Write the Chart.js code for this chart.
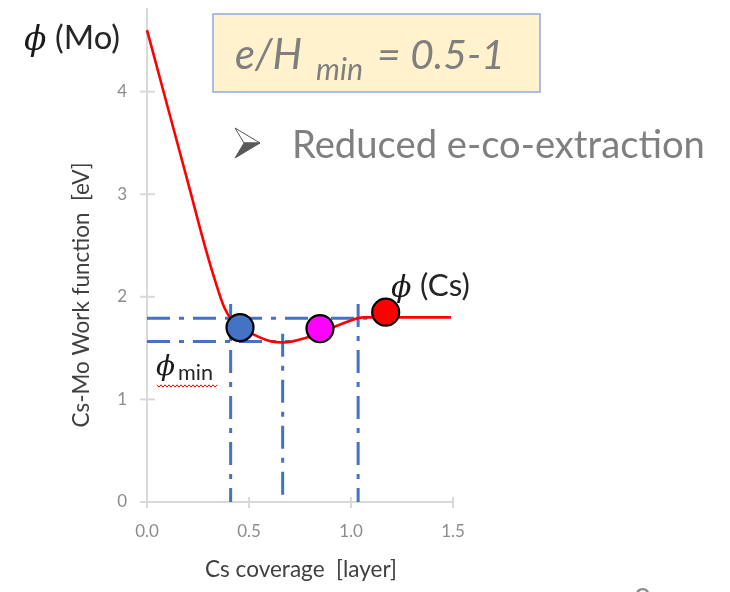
<!DOCTYPE html>
<html>
<head>
<meta charset="utf-8">
<script src="https://cdn.jsdelivr.net/npm/chart.js@4.4.1/dist/chart.umd.min.js"></script>
<style>
    html, body { margin: 0; padding: 0; background: #fff; }
    #wrap { width: 730px; height: 592px; position: relative; }
</style>
</head>
<body>
<div id="wrap"><canvas id="wfChart"></canvas></div>
<script>
// Cs-Mo work function vs Cs coverage
const coverage = [0, 0.1, 0.2, 0.29, 0.335, 0.38, 0.41, 0.46, 0.515, 0.60, 0.67, 0.78, 0.91, 1.00, 1.06, 1.49];
const workFunction = [4.6, 3.86, 3.12, 2.45, 2.15, 1.89, 1.79, 1.70, 1.64, 1.57, 1.555, 1.60, 1.70, 1.77, 1.80, 1.80];

// coloured markers
const markerX = [0.456, 0.848, 1.17];
const markerY = [1.70, 1.69, 1.85];
const markerColors = ['#4472C4', '#FF00FF', '#FF0000'];

// dash-dot guides
const hGuideY = [1.79, 1.565];
const hGuideEnd = [1.08, 0.70];
const vGuideX = [0.41, 0.665, 1.035];
const vGuideTop = [1.93, 1.64, 1.93];

// axis ticks
const xTicks = [0, 0.5, 1.0, 1.5];
const yTicks = [0, 1, 2, 3, 4];

const GRAY = '#7F7F7F';
const AXIS = '#D9D9D9';
const BLUE = '#4472C4';

function fitSize(ctx, text, width, style, family) {
    ctx.font = style + ' 100px ' + family;
    return 100 * width / ctx.measureText(text).width;
}

function drawFit(ctx, text, x, y, width, style, family, color) {
    const size = fitSize(ctx, text, width, style, family);
    ctx.font = style + ' ' + size.toFixed(2) + 'px ' + family;
    ctx.fillStyle = color;
    ctx.fillText(text, x, y);
}

// tick marks that cross the axis lines, like the original
const crossTicks = {
    id: 'crossTicks',
    afterDraw(chart) {
        const ctx = chart.ctx;
        const xs = chart.scales.x, ys = chart.scales.y;
        ctx.save();
        ctx.strokeStyle = AXIS;
        ctx.lineWidth = 2;
        // the axis line runs on to the top of the picture
        ctx.beginPath();
        ctx.moveTo(xs.left, ys.top);
        ctx.lineTo(xs.left, 8);
        ctx.stroke();
        xTicks.forEach(function (v) {
            const px = xs.getPixelForValue(v);
            ctx.beginPath();
            ctx.moveTo(px, ys.bottom - 5);
            ctx.lineTo(px, ys.bottom + 6);
            ctx.stroke();
        });
        yTicks.forEach(function (v) {
            const py = ys.getPixelForValue(v);
            ctx.beginPath();
            ctx.moveTo(xs.left - 7, py);
            ctx.lineTo(xs.left + 8, py);
            ctx.stroke();
        });
        ctx.restore();
    }
};

// slide annotations around the chart
const annotations = {
    id: 'annotations',
    afterDraw(chart) {
        const ctx = chart.ctx;
        ctx.save();
        ctx.textBaseline = 'alphabetic';
        ctx.textAlign = 'left';

        // axis titles
        ctx.save();
        ctx.translate(89, 295);
        ctx.rotate(-Math.PI / 2);
        ctx.textAlign = 'center';
        const ySize = fitSize(ctx, 'Cs-Mo Work function  [eV]', 265, '', 'Lato');
        ctx.font = ySize.toFixed(2) + 'px Lato';
        ctx.fillStyle = '#404040';
        ctx.fillText('Cs-Mo Work function  [eV]', 0, 0);
        ctx.restore();

        ctx.textAlign = 'center';
        drawFit(ctx, 'Cs coverage  [layer]', 301, 577, 192, '', 'Lato', '#404040');
        ctx.textAlign = 'left';

        // phi (Mo)
        ctx.font = 'italic 33px "DejaVu Serif"';
        ctx.fillStyle = '#1a1a1a';
        ctx.fillText('\u03D5', 24, 50);
        drawFit(ctx, '(Mo)', 55, 49, 65, '', 'Lato', '#262626');

        // phi (Cs)
        ctx.font = 'italic 30px "DejaVu Serif"';
        ctx.fillStyle = '#1a1a1a';
        ctx.fillText('\u03D5', 391, 297);
        drawFit(ctx, '(Cs)', 420, 296, 50, '', 'Lato', '#262626');

        // phi min
        ctx.font = 'italic 28px "DejaVu Serif"';
        ctx.fillStyle = '#1a1a1a';
        ctx.fillText('\u03D5', 156, 375);
        drawFit(ctx, 'min', 178, 380, 35, '', 'Lato', '#262626');
        // spell-check squiggle
        ctx.strokeStyle = '#FF0000';
        ctx.lineWidth = 1;
        ctx.beginPath();
        for (let x = 157, i = 0; x <= 217; x += 2, i++) {
            const y = 386 + (i % 2 === 0 ? -1.2 : 1.2);
            if (i === 0) ctx.moveTo(x, y); else ctx.lineTo(x, y);
        }
        ctx.stroke();

        // e/H box
        ctx.fillStyle = '#FFF2CC';
        ctx.fillRect(213, 14, 327, 78);
        ctx.strokeStyle = '#8FAADC';
        ctx.lineWidth = 1.5;
        ctx.strokeRect(213, 14, 327, 78);
        drawFit(ctx, 'e/H', 235, 69, 67, 'italic', 'Lato', GRAY);
        drawFit(ctx, 'min', 316, 80, 47, 'italic', 'Lato', GRAY);
        drawFit(ctx, '= 0.5-1', 377, 69, 128, 'italic', 'Lato', GRAY);

        // bullet arrow
        ctx.strokeStyle = '#595959';
        ctx.lineWidth = 1;
        ctx.fillStyle = '#ffffff';
        ctx.beginPath();
        ctx.moveTo(235, 128); ctx.lineTo(260, 143); ctx.lineTo(244, 143); ctx.closePath();
        ctx.fill(); ctx.stroke();
        ctx.fillStyle = '#595959';
        ctx.beginPath();
        ctx.moveTo(244, 143); ctx.lineTo(260, 143); ctx.lineTo(235, 158); ctx.closePath();
        ctx.fill(); ctx.stroke();

        drawFit(ctx, 'Reduced e-co-extraction', 292, 158, 413, '', 'Lato', GRAY);

        // slide number, cut off at the bottom
        ctx.textBaseline = 'top';
        ctx.font = '30px Lato';
        ctx.fillStyle = '#8C8C8C';
        ctx.fillText('8', 634, 585);
        ctx.restore();
    }
};

function buildDatasets() {
    const sets = [];
    sets.push({
        label: 'markers',
        data: markerX.map(function (x, i) { return { x: x, y: markerY[i] }; }),
        showLine: false,
        pointRadius: 13.5,
        pointBackgroundColor: markerColors,
        pointBorderColor: '#000000',
        pointBorderWidth: 2.2,
        clip: false,
    });
    sets.push({
        label: 'work function',
        data: coverage.map(function (x, i) { return { x: x, y: workFunction[i] }; }),
        borderColor: '#FF0000',
        borderWidth: 2.6,
        pointRadius: 0,
        cubicInterpolationMode: 'monotone',
        clip: false,
    });
    hGuideY.forEach(function (y, i) {
        sets.push({
            label: 'h' + i,
            data: [{ x: 0, y: y }, { x: hGuideEnd[i], y: y }],
            borderColor: BLUE,
            borderWidth: 3,
            borderDash: [23, 9, 5, 9],
            pointRadius: 0,
        });
    });
    vGuideX.forEach(function (x, i) {
        sets.push({
            label: 'v' + i,
            data: [{ x: x, y: vGuideTop[i] }, { x: x, y: 0 }],
            borderColor: BLUE,
            borderWidth: 3,
            borderDash: [23, 9, 5, 9],
            pointRadius: 0,
        });
    });
    return sets;
}

function initChart() {
    const ctx = document.getElementById('wfChart');
    ctx.width = 730;
    ctx.height = 592;
    new Chart(ctx, {
        type: 'line',
        data: { datasets: buildDatasets() },
        options: {
            responsive: false,
            animation: false,
            layout: { padding: { left: 0, right: 277, top: 2, bottom: 0 } },
            plugins: { legend: { display: false }, tooltip: { enabled: false } },
            scales: {
                x: {
                    type: 'linear',
                    min: 0,
                    max: 1.5,
                    border: { color: AXIS, width: 2 },
                    grid: { display: false, drawTicks: false },
                    ticks: {
                        color: '#8C8C8C',
                        font: { family: 'Lato', size: 17 },
                        padding: 19,
                        callback: function (v) { return Number(v).toFixed(1); },
                    },
                    afterBuildTicks: function (s) { s.ticks = xTicks.map(function (v) { return { value: v }; }); },
                    afterFit: function (s) { s.height = 90; s.paddingLeft = 0; s.paddingRight = 0; },
                },
                y: {
                    min: 0,
                    max: 4.74,
                    border: { color: AXIS, width: 2 },
                    grid: { display: false, drawTicks: false },
                    ticks: {
                        color: '#8C8C8C',
                        font: { family: 'Lato', size: 17 },
                        padding: 20,
                    },
                    afterBuildTicks: function (s) { s.ticks = yTicks.map(function (v) { return { value: v }; }); },
                    afterFit: function (s) { s.width = 147; s.paddingTop = 0; s.paddingBottom = 0; },
                },
            },
        },
        plugins: [crossTicks, annotations],
    });
}

initChart();
</script>
</body>
</html>
